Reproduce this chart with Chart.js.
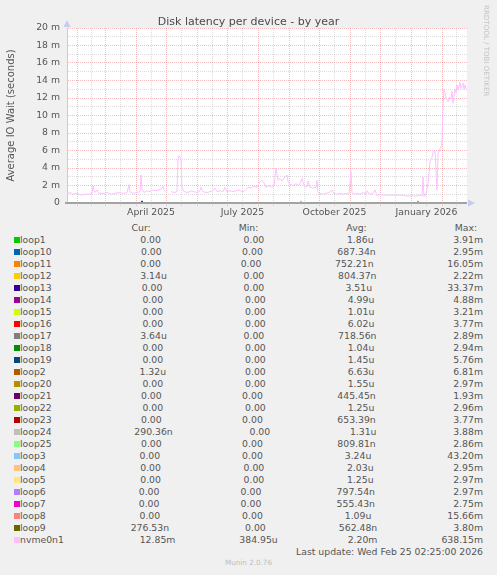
<!DOCTYPE html>
<html>
<head>
<meta charset="utf-8">
<script src="https://cdn.jsdelivr.net/npm/chart.js@4.4.1/dist/chart.umd.min.js"></script>
<style>
html,body{margin:0;padding:0;background:#f0f0f0;}
#wrap{position:relative;width:497px;height:575px;overflow:hidden;background:#f0f0f0;font-family:"DejaVu Sans",sans-serif;color:#555;}
#chartBox{position:absolute;left:0;top:0;width:497px;height:222px;}
#title{position:absolute;left:0;width:497px;top:15px;text-align:center;font-size:11px;line-height:14px;color:#4a4a4a;}
#rrd{position:absolute;left:482px;top:5px;writing-mode:vertical-rl;font-size:7.1px;line-height:9px;color:#c4c4c4;white-space:nowrap;}
#legend{position:absolute;left:14px;top:221.7px;width:469px;font-size:9.3px;}
.row{display:flex;justify-content:space-between;align-items:center;height:12px;line-height:12px;white-space:pre;}
.row span{white-space:pre;}
.lab{display:flex;align-items:center;}
.box{display:inline-block;width:6px;height:6px;}
.right{justify-content:flex-end;}
#munin{position:absolute;left:0;width:497px;top:558px;text-align:center;font-size:7.2px;line-height:9px;color:#bdbdbd;}
</style>
</head>
<body>
<div id="wrap">
  <div id="chartBox"><canvas id="c" width="497" height="222"></canvas></div>
  <div id="title">Disk latency per device - by year</div>
  <div id="rrd">RRDTOOL / TOBI OETIKER</div>
  <div id="legend"></div>
  <div id="munin">Munin 2.0.76</div>
</div>
<script>
// ---------- data ----------
const seriesNames = ["loop1","loop10","loop11","loop12","loop13","loop14","loop15","loop16","loop17","loop18","loop19","loop2","loop20","loop21","loop22","loop23","loop24","loop25","loop3","loop4","loop5","loop6","loop7","loop8","loop9","nvme0n1"];
const seriesColors = ["#00CC00","#0066B3","#FF8000","#FFCC00","#330099","#990099","#CCFF00","#FF0000","#808080","#008F00","#00487D","#B35A00","#B38F00","#6B006B","#8FB300","#B30000","#BEBEBE","#80FF80","#80C9FF","#FFC080","#FFE680","#AA80FF","#EE00CC","#FF8080","#666600","#FFBFFF"];
const curValues = ["0.00","0.00","0.00","3.14u","0.00","0.00","0.00","0.00","3.64u","0.00","0.00","1.32u","0.00","0.00","0.00","0.00","290.36n","0.00","0.00","0.00","0.00","0.00","0.00","0.00","276.53n","12.85m"];
const minValues = ["0.00","0.00","0.00","0.00","0.00","0.00","0.00","0.00","0.00","0.00","0.00","0.00","0.00","0.00","0.00","0.00","0.00","0.00","0.00","0.00","0.00","0.00","0.00","0.00","0.00","384.95u"];
const avgValues = ["1.86u","687.34n","752.21n","804.37n","3.51u","4.99u","1.01u","6.02u","718.56n","1.04u","1.45u","6.63u","1.55u","445.45n","1.25u","653.39n","1.31u","809.81n","3.24u","2.03u","1.25u","797.54n","555.43n","1.09u","562.48n","2.20m"];
const maxValues = ["3.91m","2.95m","16.05m","2.22m","33.37m","4.88m","3.21m","3.77m","2.89m","2.94m","5.76m","6.81m","2.97m","1.93m","2.96m","3.77m","3.88m","2.86m","43.20m","2.95m","2.97m","2.97m","2.75m","15.66m","3.80m","638.15m"];

// nvme0n1 (milliseconds), x = days since 22 Jan 2025
const nvmeDays = [0,3,6,10,14,18,22,25,26,27,28,30,32,36,40,44,48,52,56,60,62,63,66,70,73,74,75,77,80,83,86,89,92,95,96,97,98,99,104,107,110,111,112,113,114,115,117,121,124,127,130,133,134,136,140,143,146,148,150,153,156,158,160,163,166,169,172,175,178,181,184,187,190,193,195,197,199,202,205,207,209,211,213,215,218,220,221,223,226,229,232,235,236,238,240,241,243,246,249,250,251,253,256,259,262,265,267,270,273,276,279,282,284,285,287,290,293,296,299,300,302,305,308,310,313,316,320,325,330,335,340,345,350,353,355,356,357,359,361,363,365,366,368,370,371,373,374,375,376,377,378,379,381,383,384,385,386,388,389,390,391,393,394,396,397,398,399,400];
const nvmeValues = [1.1,1.2,1.0,1.1,0.9,1.0,1.0,1.1,2.0,1.4,1.2,1.5,1.1,1.1,1.2,1.0,1.1,1.2,1.1,1.2,2.1,1.3,1.1,1.2,1.3,3.2,1.6,1.2,1.4,1.3,1.5,1.4,1.5,1.7,1.9,1.5,1.3,null,1.3,1.2,1.3,5.0,5.4,5.3,4.8,1.8,1.3,1.2,1.4,1.3,1.2,1.4,1.8,1.3,1.2,1.3,1.4,1.7,1.3,1.4,1.3,1.8,1.3,1.4,1.3,1.4,1.5,1.3,1.4,1.8,1.7,1.9,1.8,2.4,2.6,2.3,1.8,2.0,1.8,1.9,4.0,2.6,2.8,2.5,3.0,3.2,2.5,2.1,2.0,2.2,2.0,2.8,2.4,1.8,1.9,2.5,1.8,1.7,1.8,2.6,1.2,1.1,1.0,1.1,1.2,1.5,1.1,1.0,1.1,1.0,1.1,1.0,3.6,1.2,1.0,1.1,1.0,1.2,1.0,1.4,1.1,1.0,1.5,0.8,1.0,0.9,0.9,0.9,0.9,0.9,0.8,0.8,0.8,0.9,0.8,3.0,0.7,1.1,2.2,4.8,5.2,5.8,6.0,1.5,5.6,6.2,6.4,7.0,11.0,13.0,12.6,12.0,11.6,12.1,11.9,12.8,11.4,13.0,12.6,13.5,12.9,13.8,13.1,13.7,13.0,13.5,13.1,12.85];

// loop devices: flat at zero, with small blips
const loopDays = [0, 400];
const blipSeries = ["loop13","loop3","loop11"];
const blipDays = [75, 234, 351];
const blipValues = [0.25, 0.25, 0.25];

// axis labels
const yTickValues = [0,2,4,6,8,10,12,14,16,18,20];
const yTickLabels = ["0","2 m","4 m","6 m","8 m","10 m","12 m","14 m","16 m","18 m","20 m"];
const xLabelMonths = [[2025,3],[2025,6],[2025,9],[2026,0]];
const xTickLabels = ["April 2025","July 2025","October 2025","January 2026"];

// ---------- time helpers ----------
const startUTC = Date.UTC(2025,0,22);
const dayOf = (y,m,d) => (Date.UTC(y,m,d) - startUTC) / 86400000;
const monthStarts = [];
for (let i = 0; i < 16; i++) monthStarts.push({y: 2025 + Math.floor(i/12), m: i % 12, d: dayOf(2025 + Math.floor(i/12), i % 12, 1)});
const majorSet = new Set();
const labelMap = new Map();
const xTicks = [];
for (let i = 0; i < monthStarts.length - 1; i++) {
  const s = monthStarts[i].d, mid = (monthStarts[i].d + monthStarts[i+1].d) / 2;
  if (s >= 0 && s <= 400) { xTicks.push(s); majorSet.add(s); }
  if (mid >= 0 && mid <= 400) {
    xTicks.push(mid);
    xLabelMonths.forEach((ym, k) => { if (ym[0] === monthStarts[i].y && ym[1] === monthStarts[i].m) labelMap.set(mid, xTickLabels[k]); });
  }
}
xTicks.sort((a,b) => a - b);

// ---------- datasets ----------
const N = seriesNames.length;
const datasets = seriesNames.map((name, i) => {
  let pts;
  if (name === "nvme0n1") {
    pts = nvmeDays.map((d, k) => ({x: d, y: nvmeValues[k]}));
  } else {
    pts = loopDays.map(d => ({x: d, y: 0}));
    const b = blipSeries.indexOf(name);
    if (b >= 0) {
      pts = [{x:0,y:0},{x:blipDays[b]-1,y:0},{x:blipDays[b],y:blipValues[b]},{x:blipDays[b]+1,y:0},{x:400,y:0}];
    }
  }
  return {label: name, data: pts, borderColor: seriesColors[i], backgroundColor: seriesColors[i],
          borderWidth: 1, pointRadius: 0, tension: 0, spanGaps: false, fill: false, order: N - i};
});

const MAJOR = "rgba(225,70,70,0.36)";
const MINOR = "rgba(140,140,140,0.30)";

const bgPlugin = {
  id: "bg",
  beforeDraw(chart) {
    const {ctx, chartArea: a} = chart;
    ctx.save(); ctx.fillStyle = "#ffffff"; ctx.fillRect(a.left, a.top, a.right - a.left, a.bottom - a.top); ctx.restore();
  }
};
const axisPlugin = {
  id: "axes",
  afterDatasetsDraw(chart) {
    const {ctx, chartArea: a} = chart;
    const y0 = Math.round(chart.scales.y.getPixelForValue(0));
    ctx.save();
    ctx.strokeStyle = "#a3a3a3"; ctx.lineWidth = 2;
    ctx.beginPath(); ctx.moveTo(a.left - 2, y0); ctx.lineTo(a.right, y0); ctx.stroke();
    ctx.fillStyle = "#c6cbf2";
    ctx.beginPath(); ctx.moveTo(a.left - 3.5, a.top - 1); ctx.lineTo(a.left + 3.5, a.top - 1); ctx.lineTo(a.left, a.top - 8); ctx.closePath(); ctx.fill();
    ctx.beginPath(); ctx.moveTo(a.right + 1, y0 - 3.5); ctx.lineTo(a.right + 1, y0 + 3.5); ctx.lineTo(a.right + 8, y0); ctx.closePath(); ctx.fill();
    ctx.restore();
  }
};

Chart.defaults.font.family = "DejaVu Sans";
new Chart(document.getElementById("c"), {
  type: "line",
  data: {datasets},
  options: {
    responsive: false, animation: false, devicePixelRatio: 1,
    layout: {padding: {left: 0, right: 30, top: 28, bottom: 0}},
    plugins: {legend: {display: false}, tooltip: {enabled: false}, title: {display: false}},
    scales: {
      x: {
        type: "linear", min: 0, max: 400,
        afterBuildTicks: s => { s.ticks = xTicks.map(v => ({value: v})); },
        afterFit: s => { s.height = 19; },
        ticks: {autoSkip: false, maxRotation: 0, padding: 1, color: "#555", font: {size: 9.3},
                callback: v => labelMap.has(v) ? labelMap.get(v) : ""},
        grid: {color: c => (c.tick && majorSet.has(c.tick.value)) ? MAJOR : MINOR, lineWidth: 1,
               drawTicks: true, tickLength: 3, tickColor: c => (c.tick && majorSet.has(c.tick.value)) ? MAJOR : MINOR,
               tickBorderDash: [1,1]},
        border: {display: false, dash: [1,1]}
      },
      y: {
        type: "linear", min: 0, max: 20,
        afterFit: s => { s.width = 67; },
        ticks: {stepSize: 1, autoSkip: false, padding: 7, color: "#555", font: {size: 9.3},
                callback: v => { const k = yTickValues.indexOf(v); return k >= 0 ? yTickLabels[k] : ""; }},
        grid: {color: c => (!c.tick || c.tick.value === 0) ? "rgba(0,0,0,0)" : (c.tick.value % 2 === 0 ? MAJOR : MINOR),
               lineWidth: 1, drawTicks: false},
        border: {display: true, color: "#c6cbf2", width: 1, dash: [1,1]},
        title: {display: true, text: "Average IO Wait (seconds)", color: "#555", font: {size: 10}, padding: {top: 5, bottom: 0}}
      }
    }
  },
  plugins: [bgPlugin, axisPlugin]
});

// ---------- legend table ----------
function fmt(v) {
  const m = v.match(/^([0-9.]+)([a-zA-Z]?)$/);
  return m[1].padStart(6, " ") + (m[2] || " ");
}
const legend = document.getElementById("legend");
function addRow(items, cls) {
  const r = document.createElement("div");
  r.className = "row" + (cls ? " " + cls : "");
  items.forEach(it => r.appendChild(it));
  legend.appendChild(r);
}
function span(t) { const s = document.createElement("span"); s.textContent = t; return s; }
addRow([span("          "), span("Cur:"), span("Min:"), span("Avg:"), span("Max:  ")]);
seriesNames.forEach((name, i) => {
  const lab = document.createElement("span"); lab.className = "lab";
  const b = document.createElement("span"); b.className = "box"; b.style.background = seriesColors[i];
  lab.appendChild(b); lab.appendChild(span(name.padEnd(10, " ")));
  addRow([lab, span(fmt(curValues[i])), span(fmt(minValues[i])), span(fmt(avgValues[i])), span(fmt(maxValues[i]))]);
});
addRow([span("Last update: Wed Feb 25 02:25:00 2026")], "right");
</script>
</body>
</html>
